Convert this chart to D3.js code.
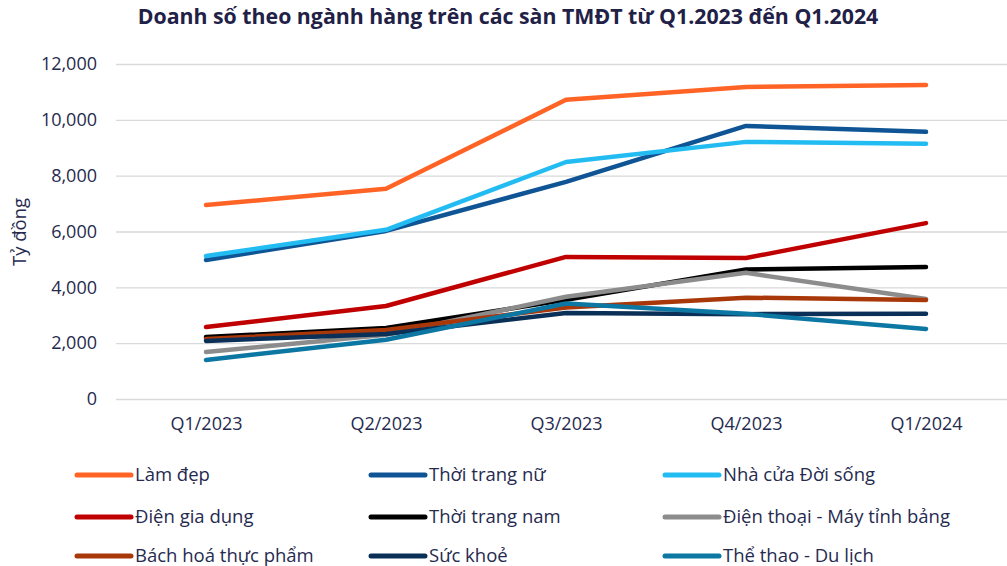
<!DOCTYPE html>
<html>
<head>
<meta charset="utf-8">
<script src="https://cdn.jsdelivr.net/npm/d3@7"></script>
<style>
  html, body { margin: 0; padding: 0; background: #fff; }
  svg text { font-family: "Open Sans", "Noto Sans", sans-serif; }
</style>
</head>
<body>
<svg id="chart" width="1007" height="566"></svg>
<script>
// Quarterly e-commerce sales by category (billion VND)
const quarters = ["Q1/2023", "Q2/2023", "Q3/2023", "Q4/2023", "Q1/2024"];
const seriesNames = [
  "Làm đẹp", "Thời trang nữ", "Nhà cửa Đời sống",
  "Điện gia dụng", "Thời trang nam", "Điện thoại - Máy tỉnh bảng",
  "Bách hoá thực phẩm", "Sức khoẻ", "Thể thao - Du lịch"
];
const lamDep       = [6950, 7530, 10720, 11180, 11250];
const thoiTrangNu  = [4980, 6020, 7780, 9780, 9570];
const nhaCua       = [5120, 6060, 8490, 9210, 9140];
const dienGiaDung  = [2580, 3330, 5090, 5050, 6300];
const thoiTrangNam = [2220, 2540, 3550, 4640, 4730];
const dienThoai    = [1680, 2300, 3660, 4520, 3580];
const bachHoa      = [2150, 2470, 3280, 3630, 3550];
const sucKhoe      = [2080, 2330, 3080, 3040, 3050];
const theThao      = [1400, 2120, 3420, 3050, 2510];
const yTicks = [0, 2000, 4000, 6000, 8000, 10000, 12000];

const seriesValues = [lamDep, thoiTrangNu, nhaCua, dienGiaDung, thoiTrangNam,
                      dienThoai, bachHoa, sucKhoe, theThao];
const colors = ["#ff6426", "#0f5595", "#22bcf3", "#c00000", "#000000",
                "#8c8c8c", "#a8380a", "#0b3057", "#0b77a2"];

const svg = d3.select("#chart");
const textColor = "#262a4f";

const x = d3.scalePoint().domain(quarters).range([206, 926]);
const y = d3.scaleLinear().domain([0, 12000]).range([399, 64]);

// Title
svg.append("text")
  .attr("x", 508).attr("y", 24)
  .attr("text-anchor", "middle")
  .attr("font-size", 21.3).attr("font-weight", 700)
  .attr("fill", "#1f2147")
  .text("Doanh số theo ngành hàng trên các sàn TMĐT từ Q1.2023 đến Q1.2024");

// Gridlines and y-axis
const yAxis = d3.axisLeft(y).tickValues(yTicks)
  .tickSize(-(1007 - 116)).tickPadding(19)
  .tickFormat(d3.format(","));
const gy = svg.append("g").attr("transform", "translate(116,0)").call(yAxis);
gy.select(".domain").remove();
gy.selectAll(".tick line").attr("stroke", "#d9d9d9").attr("stroke-width", 1.3);
gy.selectAll(".tick text").attr("fill", textColor).attr("font-size", 18)
  .attr("font-family", "'Open Sans', sans-serif");

// Y-axis title
svg.append("text")
  .attr("transform", "translate(20,232) rotate(-90)")
  .attr("text-anchor", "middle").attr("dy", "0.35em")
  .attr("font-size", 18.5).attr("fill", textColor)
  .text("Tỷ đồng");

// X-axis labels
const xAxis = d3.axisBottom(x).tickSize(0).tickPadding(0);
const gx = svg.append("g").attr("transform", "translate(0,417)").call(xAxis);
gx.select(".domain").remove();
gx.selectAll(".tick text").attr("fill", textColor).attr("font-size", 18)
  .attr("font-family", "'Open Sans', sans-serif");

// Lines
const line = d3.line()
  .x((d, i) => x(quarters[i]))
  .y(d => y(d));

svg.append("g").selectAll("path")
  .data(seriesValues)
  .join("path")
  .attr("d", d => line(d))
  .attr("fill", "none")
  .attr("stroke", (d, i) => colors[i])
  .attr("stroke-width", 4.5)
  .attr("stroke-linecap", "round")
  .attr("stroke-linejoin", "round");

// Legend: three columns, three rows
const colX = [75, 369, 663];
const rowY = [475, 517, 556];
const legend = svg.append("g").selectAll("g")
  .data(seriesNames)
  .join("g")
  .attr("transform", (d, i) => `translate(${colX[i % 3]},${rowY[Math.floor(i / 3)]})`);
legend.append("line")
  .attr("x1", 2).attr("x2", 56).attr("y1", 0).attr("y2", 0)
  .attr("stroke", (d, i) => colors[i])
  .attr("stroke-width", 5).attr("stroke-linecap", "round");
legend.append("text")
  .attr("x", 60).attr("y", 0).attr("dy", "0.35em")
  .attr("font-size", 18.5).attr("fill", textColor)
  .text(d => d);
</script>
</body>
</html>
